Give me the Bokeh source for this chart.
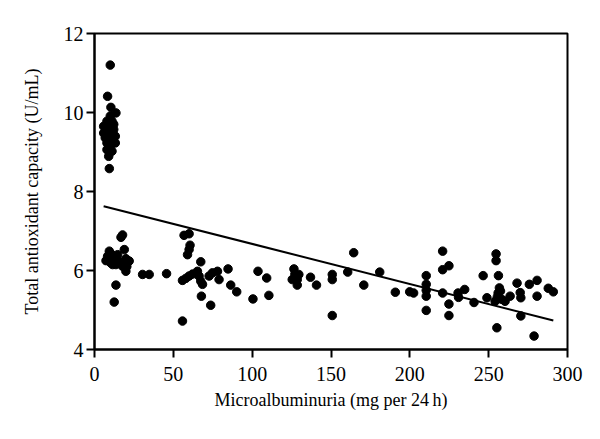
from bokeh.plotting import figure
from bokeh.models import FixedTicker, ColumnDataSource
from bokeh.embed import file_html
from bokeh.resources import INLINE

# Microalbuminuria (mg per 24 h)
micro_x = [
    # high-TAC cluster
    10.0, 8.3, 10.4, 13.6, 10.0, 7.9, 11.1, 5.8, 9.0, 12.2, 5.8, 10.0, 13.2, 6.8,
    11.1, 7.9, 13.2, 10.0, 7.9, 11.1, 9.0, 9.4, 12.2, 8.5, 11.5, 9.5, 10.5, 9.0,
    # low cluster near zero
    16.8, 17.8, 9.4, 18.9, 11.1, 14.7, 8.3, 7.3, 10.4, 12.5, 13.6, 16.1, 17.8,
    19.9, 22.0, 19.9, 13.6, 12.5, 30.5, 34.7, 45.7, 9.5, 15.0, 11.5, 20.5,
    # 50-100
    56.8, 60.0, 60.6, 60.0, 59.0, 67.4, 55.8, 57.9, 60.0, 62.2, 65.3, 66.3, 67.4,
    68.5, 72.7, 74.8, 78.0, 79.0, 84.7, 86.4, 90.2, 67.8, 73.7, 55.8,
    # 100-200
    103.7, 109.2, 100.5, 110.6, 126.5, 127.1, 125.4, 128.6, 129.6, 128.6, 137.0,
    140.8, 150.8, 150.8, 150.8, 160.6, 164.4, 170.8, 180.9, 190.8, 199.9, 202.4,
    # 200-300
    210.4, 210.4, 210.4, 210.4, 210.4, 220.8, 220.8, 224.8, 220.8, 224.8, 224.8,
    230.6, 230.9, 234.8, 240.7, 246.5, 248.9, 254.7, 254.7, 256.2, 256.8, 256.0,
    254.1, 258.3, 260.4, 263.6, 255.2, 257.5, 255.5, 268.0, 270.0, 270.4, 270.4,
    275.8, 280.7, 280.7, 278.8, 287.8, 291.0,
]

# Total antioxidant capacity (U/mL)
tac_y = [
    11.2, 10.41, 10.13, 9.99, 9.91, 9.78, 9.78, 9.65, 9.61, 9.57, 9.48, 9.44, 9.40, 9.36,
    9.27, 9.23, 9.23, 9.15, 9.06, 9.02, 8.89, 8.58, 9.70, 9.50, 9.35, 9.30, 9.55, 9.75,
    6.84, 6.90, 6.49, 6.53, 6.40, 6.40, 6.36, 6.25, 6.19, 6.28, 6.15, 6.19, 6.11,
    6.30, 6.24, 5.98, 5.63, 5.20, 5.90, 5.90, 5.92, 6.25, 6.25, 6.15, 6.10,
    6.89, 6.93, 6.64, 6.53, 6.40, 6.22, 5.75, 5.80, 5.86, 5.91, 5.98, 5.86, 5.73,
    5.65, 5.86, 5.94, 5.98, 5.77, 6.04, 5.63, 5.46, 5.35, 5.12, 4.72,
    5.98, 5.81, 5.28, 5.37, 6.04, 5.91, 5.77, 5.77, 5.90, 5.63, 5.83,
    5.63, 5.90, 5.77, 4.86, 5.96, 6.45, 5.63, 5.96, 5.45, 5.46, 5.43,
    5.87, 5.65, 5.50, 5.35, 4.99, 6.49, 6.02, 6.12, 5.43, 5.15, 4.86,
    5.43, 5.32, 5.52, 5.19, 5.87, 5.31, 6.42, 6.25, 5.87, 5.56, 5.43,
    5.22, 5.27, 5.22, 5.35, 4.55, 5.48, 5.33, 5.68, 5.44, 5.31, 4.85,
    5.65, 5.75, 5.35, 4.34, 5.55, 5.46,
]

# fitted regression line (intercept, slope)
fit_intercept = 7.687
fit_slope = -0.010143

x_ticks = [0, 50, 100, 150, 200, 250, 300]
y_ticks = [4, 6, 8, 10, 12]

FONT = "Liberation Serif"

p = figure(
    frame_width=473, frame_height=316,
    x_range=(0, 300), y_range=(4, 12),
    output_backend="svg", toolbar_location=None,
    min_border_left=94, min_border_right=17, min_border_top=33, min_border_bottom=75,
)
p.grid.visible = False
p.outline_line_color = "black"
p.outline_line_width = 2
p.background_fill_color = "white"
p.border_fill_color = "white"

p.xaxis.ticker = FixedTicker(ticks=x_ticks)
p.yaxis.ticker = FixedTicker(ticks=y_ticks)
for ax in (p.xaxis, p.yaxis):
    ax.axis_line_width = 2
    ax.axis_line_color = "black"
    ax.major_tick_line_width = 2
    ax.major_tick_line_color = "black"
    ax.major_tick_out = 8
    ax.major_tick_in = 0
    ax.minor_tick_out = 0
    ax.minor_tick_in = 0
    ax.major_label_text_font = FONT
    ax.major_label_text_font_size = "20px"
    ax.major_label_text_color = "black"
    ax.axis_label_text_font = FONT
    ax.axis_label_text_font_size = "18px"
    ax.axis_label_text_font_style = "normal"
    ax.axis_label_text_color = "black"

p.xaxis.axis_label = "Microalbuminuria (mg per 24\u2009h)"
p.yaxis.axis_label = "Total antioxidant capacity (U/mL)"
p.xaxis.major_label_standoff = 9
p.yaxis.major_label_standoff = 3
p.xaxis.axis_label_standoff = 6
p.yaxis.axis_label_standoff = 19

src = ColumnDataSource(dict(x=micro_x, y=tac_y))
p.scatter("x", "y", source=src, size=8.5, color="black", line_color="black")

x0, x1 = min(micro_x), max(micro_x)
p.line([x0, x1], [fit_intercept + fit_slope * x0, fit_intercept + fit_slope * x1],
       line_color="black", line_width=2)

open("out.html", "w").write(file_html(p, INLINE))
